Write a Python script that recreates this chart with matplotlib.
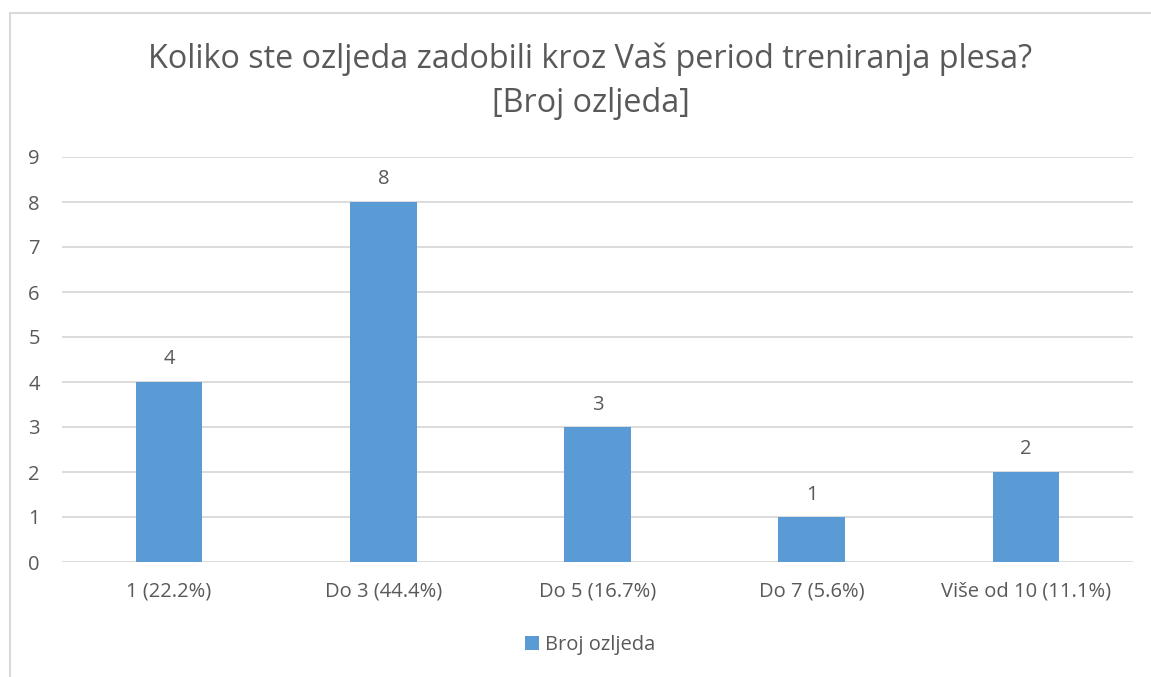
import matplotlib.pyplot as plt
from matplotlib.patches import Rectangle

categories = ["1 (22.2%)", "Do 3 (44.4%)", "Do 5 (16.7%)", "Do 7 (5.6%)", "Više od 10 (11.1%)"]
counts = [4, 8, 3, 1, 2]
series_name = "Broj ozljeda"
title = "Koliko ste ozljeda zadobili kroz Vaš period treniranja plesa?\n[Broj ozljeda]"

BAR = "#5B9BD5"
TEXT = "#595959"
GRID = "#D9D9D9"

plt.rcParams["font.family"] = ["Open Sans", "DejaVu Sans"]

W, H = 1151, 677
fig = plt.figure(figsize=(W / 100, H / 100), dpi=100)
fig.patches.append(Rectangle((10 / W, -0.1), 1.2, 1 - 13 / H + 0.1, transform=fig.transFigure,
                             fill=False, edgecolor=GRID, linewidth=1.5))

ax = fig.add_axes([62 / W, (H - 562) / H, (1133 - 62) / W, (562 - 157) / H])
x = range(len(categories))
bars = ax.bar(x, counts, width=0.31, color=BAR, label=series_name, zorder=3)
ax.bar_label(bars, padding=9, color=TEXT, fontsize=14.5)

ax.set_xlim(-0.5, len(categories) - 0.5)
ax.set_ylim(0, 9)
ax.set_yticks(range(10))
ax.set_xticks(list(x))
ax.set_xticklabels(categories)
ax.tick_params(length=0, colors=TEXT, labelsize=14.5)
ax.tick_params(axis="x", pad=14)
ax.tick_params(axis="y", pad=16)
ax.grid(axis="y", color=GRID, linewidth=1.3, zorder=0)
for spine in ax.spines.values():
    spine.set_visible(False)

fig.text(0.513, 1 - 81 / H, title, ha="center", va="center", fontsize=23.3, color=TEXT, linespacing=1.45)
fig.legend(handles=[bars], labels=[series_name], loc="center", bbox_to_anchor=(0.513, 1 - 645 / H),
           frameon=False, fontsize=14.5, handlelength=0.7, handleheight=0.7, handletextpad=0.3, labelcolor=TEXT)

fig.savefig("out.png", dpi=100, facecolor="white")
